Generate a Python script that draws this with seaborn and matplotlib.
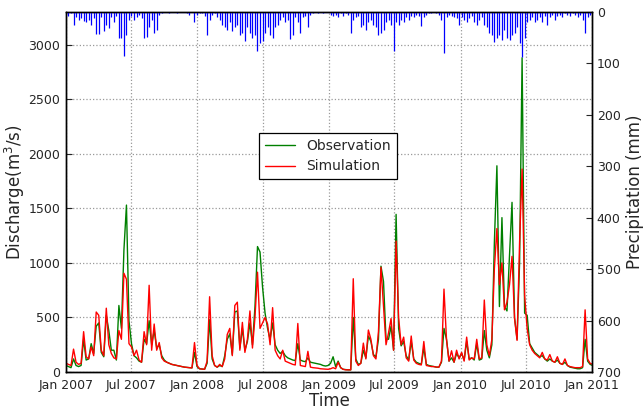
import numpy as np
import pandas as pd
import matplotlib
matplotlib.use("Agg")
import matplotlib.pyplot as plt
import matplotlib.dates as mdates
import seaborn as sns

# ── Weekly series, Jan 2007 – Jan 2011 ──────────
START   = "2007-01-01"
N_WEEKS = 210

obs_2007 = [60, 50, 40, 120, 60, 50, 60, 300, 110, 120,
            260, 170, 420, 450, 180, 140, 520, 380, 200, 200,
            110, 610, 400, 1120, 1530, 470, 260, 150, 130, 100,
            90, 300, 260, 470, 250, 380, 220, 250, 150, 110,
            90, 80, 70, 65, 60, 55, 50, 45, 42, 40,
            38, 180]
sim_2007 = [80, 70, 60, 210, 90, 70, 80, 370, 140, 120,
            230, 150, 550, 520, 200, 150, 585, 250, 170, 130,
            120, 380, 300, 905, 850, 260, 230, 150, 200, 110,
            90, 370, 250, 795, 200, 440, 200, 270, 130, 100,
            90, 80, 70, 65, 60, 55, 50, 45, 42, 40,
            38, 270]

obs_2008 = [50, 30, 28, 25, 80, 480, 120, 60, 45, 60,
            50, 150, 300, 350, 160, 550, 560, 220, 400, 200,
            280, 450, 250, 600, 1150, 1100, 780, 540, 400, 300,
            450, 250, 200, 170, 190, 150, 130, 120, 110, 105,
            260, 110, 100, 95, 130, 90, 85, 80, 75, 70,
            60, 55]
sim_2008 = [60, 30, 28, 25, 100, 690, 150, 60, 45, 70,
            50, 120, 345, 400, 150, 610, 640, 200, 455, 180,
            300, 560, 220, 500, 915, 400, 450, 500, 440, 250,
            590, 200, 150, 120, 200, 100, 90, 80, 70, 65,
            445, 60, 55, 50, 190, 45, 40, 38, 35, 30,
            28, 25]

obs_2009 = [60, 80, 140, 50, 100, 40, 25, 22, 20, 20,
            500, 120, 70, 80, 200, 130, 330, 280, 160, 140,
            300, 970, 830, 300, 300, 420, 200, 1445, 400, 240,
            280, 150, 110, 280, 120, 90, 80, 70, 220, 70,
            60, 55, 50, 45, 45, 90, 400, 300, 100, 130,
            90, 170]
sim_2009 = [25, 30, 40, 30, 90, 40, 25, 20, 20, 20,
            855, 100, 60, 80, 265, 120, 385, 300, 150, 120,
            370, 960, 600, 250, 360, 490, 200, 1200, 500, 250,
            320, 130, 100, 330, 110, 80, 70, 65, 280, 60,
            55, 50, 50, 45, 45, 100, 760, 300, 100, 195,
            90, 200]

obs_2010 = [130, 170, 110, 280, 120, 130, 110, 260, 110, 120,
            380, 200, 130, 250, 1190, 1890, 600, 1415, 600, 560,
            1070, 1555, 500, 300, 1000, 2880, 540, 520, 260, 220,
            180, 160, 140, 150, 120, 100, 120, 100, 90, 110,
            80, 70, 90, 60, 45, 40, 35, 30, 30, 40,
            300, 100, 70, 60]
sim_2010 = [120, 180, 100, 320, 110, 130, 120, 300, 120, 130,
            660, 250, 150, 300, 950, 1315, 800, 1000, 570, 640,
            800, 1060, 490, 290, 1190, 1860, 700, 400, 250, 200,
            170, 150, 130, 180, 120, 110, 160, 100, 90, 140,
            80, 70, 120, 60, 50, 45, 40, 40, 40, 50,
            570, 120, 80, 70]

prcp_2007 = [5, 8, 3, 25, 10, 15, 12, 18, 20, 15,
             25, 12, 43, 43, 10, 38, 25, 31, 10, 20,
             8, 50, 50, 86, 45, 15, 8, 15, 10, 5,
             12, 50, 48, 30, 15, 40, 35, 5, 3, 0,
             0, 2, 0, 0, 3, 0, 0, 0, 2, 5,
             0, 20]
prcp_2008 = [5, 3, 2, 8, 44, 15, 5, 3, 10, 15,
             25, 30, 35, 20, 37, 30, 25, 45, 40, 57,
             30, 40, 50, 45, 76, 60, 57, 40, 30, 45,
             50, 30, 25, 15, 10, 20, 15, 53, 45, 10,
             20, 40, 10, 8, 29, 5, 3, 0, 2, 0,
             3, 0]
prcp_2009 = [0, 5, 8, 5, 10, 3, 8, 3, 5, 41,
             15, 10, 8, 30, 25, 35, 20, 15, 25, 30,
             45, 40, 35, 20, 15, 25, 75, 20, 25, 15,
             20, 10, 15, 8, 10, 5, 8, 27, 10, 5,
             3, 2, 0, 3, 5, 15, 80, 10, 5, 8,
             10, 12]
prcp_2010 = [25, 10, 15, 20, 12, 8, 20, 25, 15, 10,
             25, 30, 40, 45, 58, 50, 45, 55, 35, 50,
             55, 45, 40, 30, 60, 87, 50, 20, 15, 10,
             20, 15, 10, 20, 8, 25, 10, 5, 15, 8,
             5, 10, 3, 5, 8, 3, 5, 10, 5, 15,
             41, 10, 5, 3]

DISCHARGE_TICKS = [0, 500, 1000, 1500, 2000, 2500, 3000]
PRECIP_TICKS    = [0, 100, 200, 300, 400, 500, 600, 700]


def main():
    df = pd.DataFrame({
        "date": pd.date_range(START, periods=N_WEEKS, freq="7D"),
        "obs":  obs_2007 + obs_2008 + obs_2009 + obs_2010,
        "sim":  sim_2007 + sim_2008 + sim_2009 + sim_2010,
        "prcp": prcp_2007 + prcp_2008 + prcp_2009 + prcp_2010,
    })

    sns.set_style("white")
    plt.rcParams["font.family"] = ["DejaVu Sans"]

    fig = plt.figure(figsize=(6.43, 4.12), dpi=100)
    ax = fig.add_axes([0.1026, 0.097, 0.818, 0.874])

    # ── discharge ─────────────────────────────────────────────────────────
    sns.lineplot(data=df, x="date", y="obs", color="#008000", lw=1.0,
                 label="Observation", ax=ax)
    sns.lineplot(data=df, x="date", y="sim", color="#ff0000", lw=1.0,
                 label="Simulation", ax=ax)
    ax.set_ylim(0, 3300)
    ax.set_yticks(DISCHARGE_TICKS)
    ax.set_xlim(pd.Timestamp("2007-01-01"), pd.Timestamp("2011-01-01"))
    ax.xaxis.set_major_locator(mdates.MonthLocator(bymonth=[1, 7]))
    ax.xaxis.set_major_formatter(mdates.DateFormatter("%b %Y"))
    ax.grid(True, ls=":", color="#999999", lw=0.9)
    ax.set_xlabel("Time", fontsize=12, labelpad=0)
    ax.set_ylabel("Discharge(m$^3$/s)", fontsize=12, labelpad=1)
    ax.tick_params(axis="y", labelsize=9, direction="in", length=4, pad=4)
    ax.tick_params(axis="x", labelsize=9, direction="in", length=4, pad=5)

    leg = ax.legend(loc="center", bbox_to_anchor=(0.498, 0.6), fontsize=10,
                    fancybox=False, framealpha=1, edgecolor="black",
                    handlelength=2.2)
    leg.get_frame().set_linewidth(0.9)

    # ── precipitation, hanging from the top ───────────────────────────────
    ax2 = ax.twinx()
    ax2.vlines(df["date"], 0, df["prcp"], color="#0000ff", lw=0.9)
    ax2.axhline(0, color="#0000ff", lw=1.6)
    ax2.set_ylim(700, 0)
    ax2.set_yticks(PRECIP_TICKS)
    ax2.set_ylabel("Precipitation (mm)", fontsize=12)
    ax2.tick_params(labelsize=9, direction="in", length=4)

    for a in (ax, ax2):
        for s in a.spines.values():
            s.set_color("black")
            s.set_linewidth(1.0)

    fig.savefig("out.png", dpi=100)
    plt.close(fig)


if __name__ == "__main__":
    main()
